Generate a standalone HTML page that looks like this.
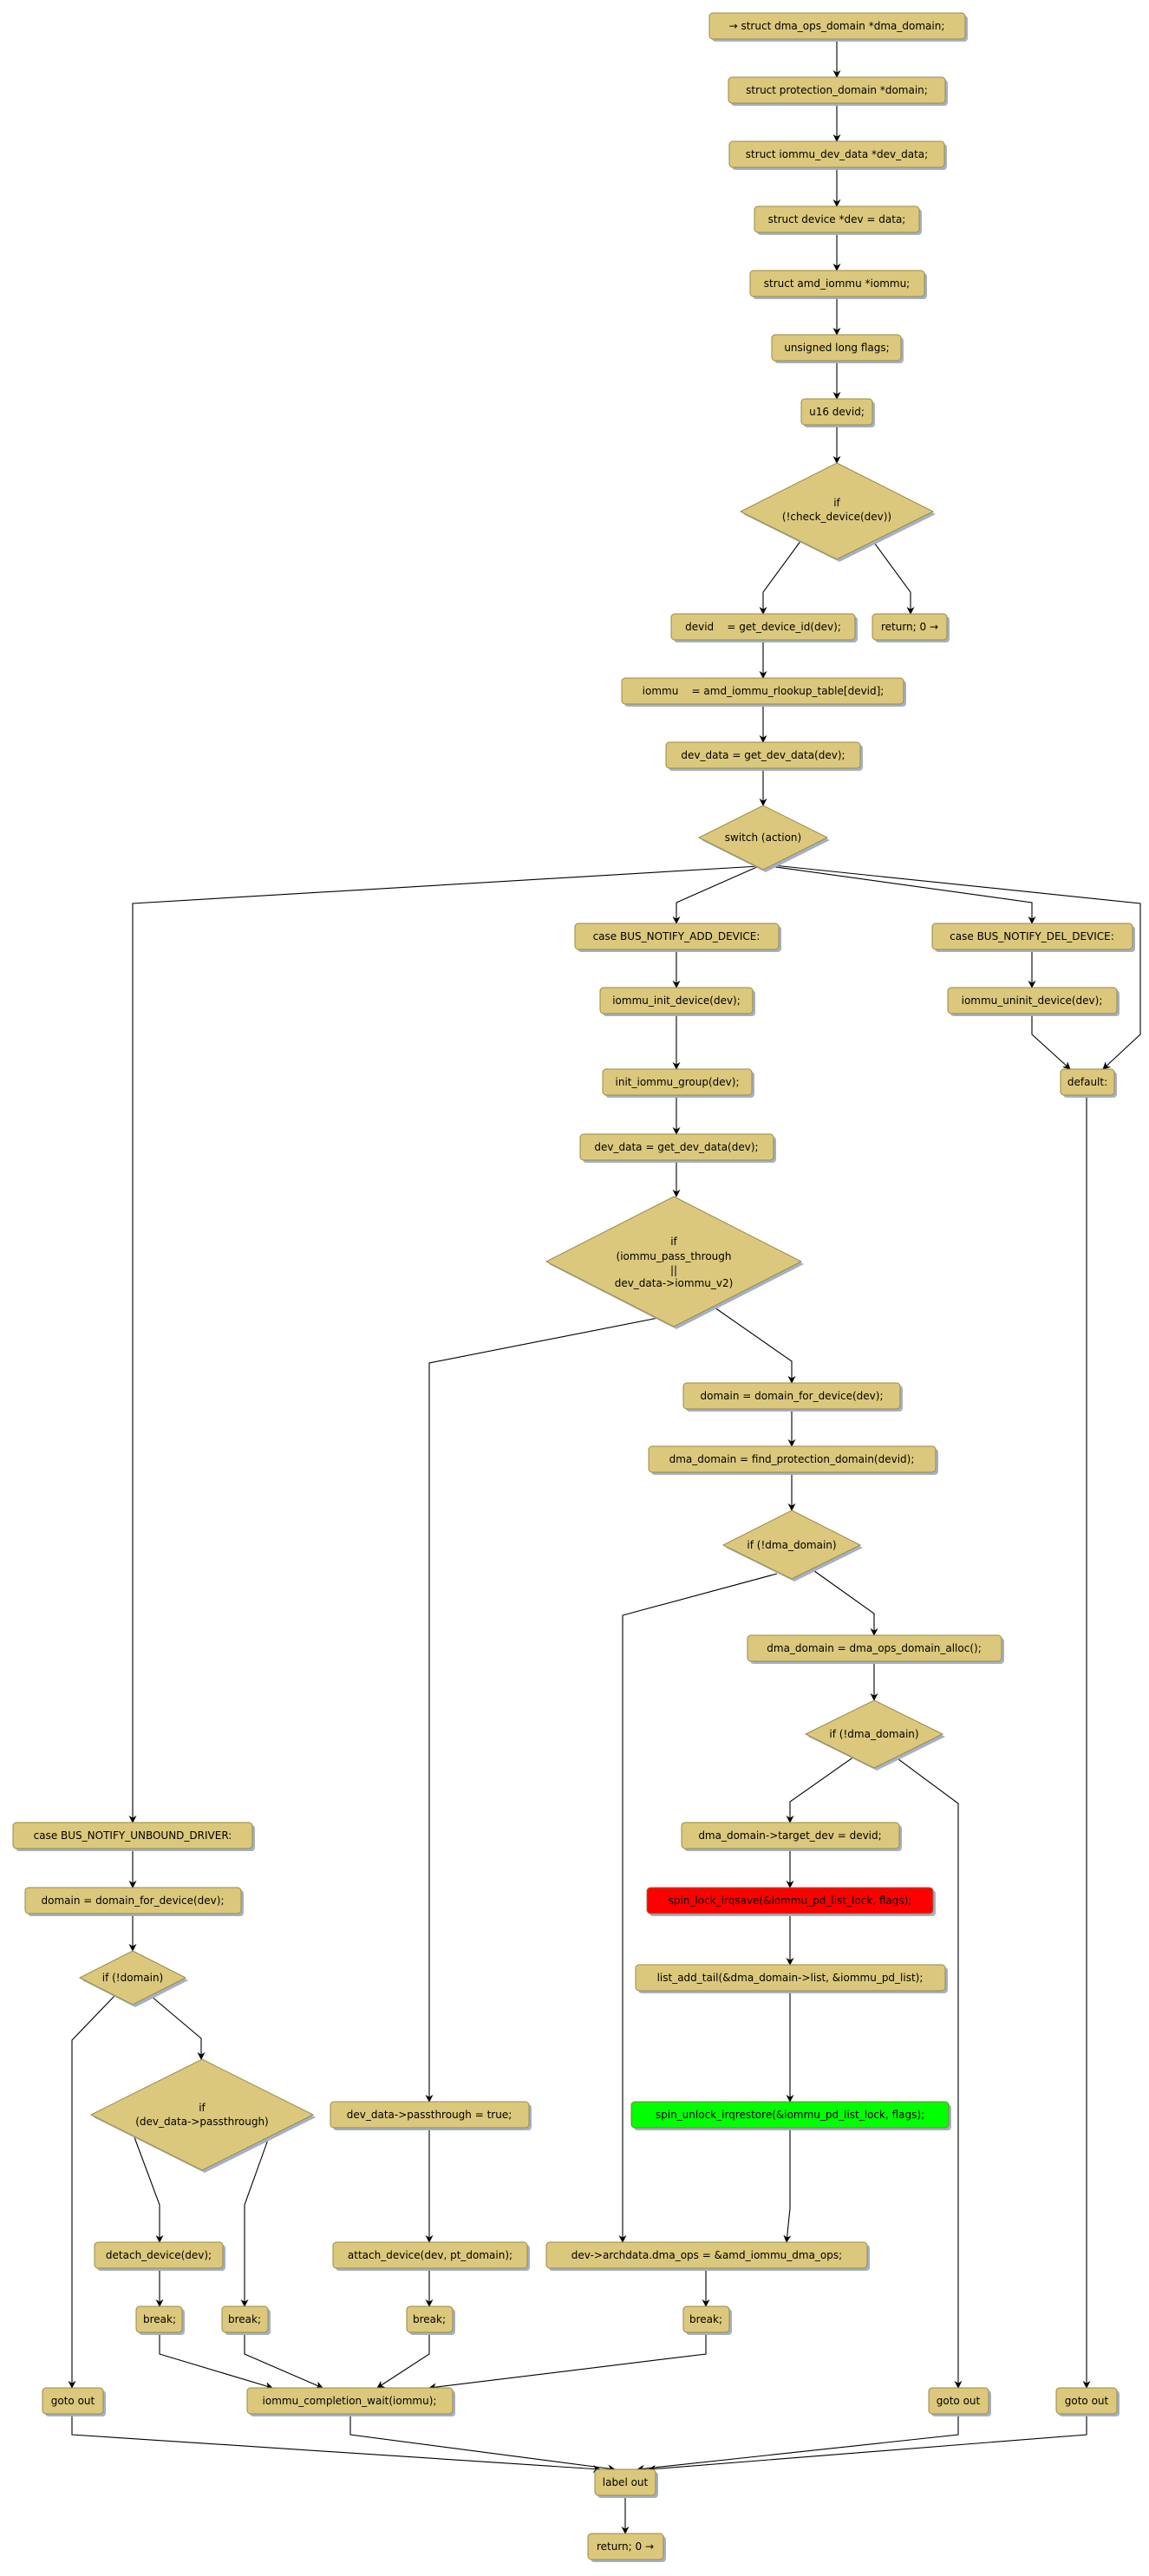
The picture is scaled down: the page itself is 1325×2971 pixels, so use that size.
<!DOCTYPE html>
<html><head><meta charset="utf-8"><style>
html,body{margin:0;padding:0;background:#fff}
svg{display:block}
text{font-family:"DejaVu Sans","Liberation Sans",sans-serif;font-size:12px;fill:#000;text-anchor:middle;white-space:pre}
.b{fill:#dbc87c;stroke:#9a8a45;stroke-width:1}
.s{fill:#a3b0c8}
.e{fill:none;stroke:#000;stroke-width:1.1}
</style></head><body>
<svg width="1325" height="2971" viewBox="0 0 1325 2971" xmlns="http://www.w3.org/2000/svg">
<defs><marker id="a" viewBox="0 0 10 10" refX="9" refY="5" markerWidth="9" markerHeight="9" orient="auto" markerUnits="userSpaceOnUse"><path d="M0,0 L10,5 L0,10 L3,5 z" fill="#000"/></marker></defs>
<g id="edges" marker-end="url(#a)">
<polyline class="e" marker-end="url(#a)" points="965,46 965,89"/>
<polyline class="e" marker-end="url(#a)" points="965,120 965,163"/>
<polyline class="e" marker-end="url(#a)" points="965,194 965,238"/>
<polyline class="e" marker-end="url(#a)" points="965,267 965,312"/>
<polyline class="e" marker-end="url(#a)" points="965,341 965,386"/>
<polyline class="e" marker-end="url(#a)" points="965,415 965,460"/>
<polyline class="e" marker-end="url(#a)" points="965,489 965,534"/>
<polyline class="e" marker-end="url(#a)" points="924,623 880,683 880,708"/>
<polyline class="e" marker-end="url(#a)" points="1006,623 1050,683 1050,708"/>
<polyline class="e" marker-end="url(#a)" points="880,737 880,782"/>
<polyline class="e" marker-end="url(#a)" points="880,812 880,856"/>
<polyline class="e" marker-end="url(#a)" points="880,886 880,929"/>
<polyline class="e" marker-end="url(#a)" points="875,999 153,1042 153,2102"/>
<polyline class="e" marker-end="url(#a)" points="875,999 780,1041 780,1065"/>
<polyline class="e" marker-end="url(#a)" points="888,999 1190,1041 1190,1065"/>
<polyline class="e" marker-end="url(#a)" points="892,998 1315,1042 1315,1193 1272,1233"/>
<polyline class="e" marker-end="url(#a)" points="1190,1096 1190,1139"/>
<polyline class="e" marker-end="url(#a)" points="1190,1170 1190,1193 1234,1233"/>
<polyline class="e" marker-end="url(#a)" points="780,1096 780,1139"/>
<polyline class="e" marker-end="url(#a)" points="780,1170 780,1233"/>
<polyline class="e" marker-end="url(#a)" points="780,1264 780,1308"/>
<polyline class="e" marker-end="url(#a)" points="780,1339 780,1380"/>
<polyline class="e" marker-end="url(#a)" points="759,1520 495,1572 495,2424"/>
<polyline class="e" marker-end="url(#a)" points="824,1508 913,1570 913,1595"/>
<polyline class="e" marker-end="url(#a)" points="913,1626 913,1668"/>
<polyline class="e" marker-end="url(#a)" points="913,1699 913,1742"/>
<polyline class="e" marker-end="url(#a)" points="896,1815 718,1863 718,2586"/>
<polyline class="e" marker-end="url(#a)" points="935,1809 1008,1861 1008,1886"/>
<polyline class="e" marker-end="url(#a)" points="1008,1916 1008,1961"/>
<polyline class="e" marker-end="url(#a)" points="985,2026 911,2078 911,2102"/>
<polyline class="e" marker-end="url(#a)" points="1032,2026 1105,2080 1105,2754"/>
<polyline class="e" marker-end="url(#a)" points="911,2134 911,2177"/>
<polyline class="e" marker-end="url(#a)" points="911,2207 911,2266"/>
<polyline class="e" marker-end="url(#a)" points="911,2296 911,2424"/>
<polyline class="e" marker-end="url(#a)" points="911,2454 911,2547 907,2586"/>
<polyline class="e" marker-end="url(#a)" points="814,2617 814,2660"/>
<polyline class="e" marker-end="url(#a)" points="814,2690 814,2715 495,2754"/>
<polyline class="e" marker-end="url(#a)" points="1253,1263 1253,2754"/>
<polyline class="e" marker-end="url(#a)" points="153,2134 153,2177"/>
<polyline class="e" marker-end="url(#a)" points="153,2207 153,2250"/>
<polyline class="e" marker-end="url(#a)" points="132,2302 83,2353 83,2754"/>
<polyline class="e" marker-end="url(#a)" points="174,2302 232,2351 232,2375"/>
<polyline class="e" marker-end="url(#a)" points="155,2465 184,2543 184,2586"/>
<polyline class="e" marker-end="url(#a)" points="310,2465 282,2543 282,2660"/>
<polyline class="e" marker-end="url(#a)" points="184,2617 184,2660"/>
<polyline class="e" marker-end="url(#a)" points="495,2454 495,2586"/>
<polyline class="e" marker-end="url(#a)" points="495,2617 495,2660"/>
<polyline class="e" marker-end="url(#a)" points="184,2690 184,2715 314,2754"/>
<polyline class="e" marker-end="url(#a)" points="282,2690 282,2715 372,2754"/>
<polyline class="e" marker-end="url(#a)" points="495,2690 495,2715 435,2754"/>
<polyline class="e" marker-end="url(#a)" points="83,2786 83,2808 692,2848"/>
<polyline class="e" marker-end="url(#a)" points="404,2786 404,2808 709,2848"/>
<polyline class="e" marker-end="url(#a)" points="1105,2786 1105,2808 735,2848"/>
<polyline class="e" marker-end="url(#a)" points="1253,2786 1253,2808 748,2848"/>
<polyline class="e" marker-end="url(#a)" points="721,2879 721,2922"/>
</g>
<!-- boxes -->
<g>
<rect class="s" x="821" y="18" width="295" height="30" rx="4"/><rect class="b" x="818" y="15" width="295" height="30" rx="4"/><text x="965" y="34">→ struct dma_ops_domain *dma_domain;</text>
<rect class="s" x="843" y="92" width="250" height="30" rx="4"/><rect class="b" x="840" y="89" width="250" height="30" rx="4"/><text x="965" y="108">struct protection_domain *domain;</text>
<rect class="s" x="844" y="166" width="248" height="30" rx="4"/><rect class="b" x="841" y="163" width="248" height="30" rx="4"/><text x="965" y="182">struct iommu_dev_data *dev_data;</text>
<rect class="s" x="873" y="241" width="190" height="30" rx="4"/><rect class="b" x="870" y="238" width="190" height="30" rx="4"/><text x="965" y="257">struct device *dev = data;</text>
<rect class="s" x="868" y="315" width="201" height="30" rx="4"/><rect class="b" x="865" y="312" width="201" height="30" rx="4"/><text x="965" y="331">struct amd_iommu *iommu;</text>
<rect class="s" x="893" y="389" width="149" height="30" rx="4"/><rect class="b" x="890" y="386" width="149" height="30" rx="4"/><text x="965" y="405">unsigned long flags;</text>
<rect class="s" x="927" y="463" width="82" height="30" rx="4"/><rect class="b" x="924" y="460" width="82" height="30" rx="4"/><text x="965" y="479">u16 devid;</text>
<polygon class="s" points="968,537 1079,593 968,648 857,593"/><polygon class="b" points="965,534 1076,590 965,645 854,590"/>
<text x="965" y="584">if</text><text x="965" y="600">(!check_device(dev))</text>
<rect class="s" x="777" y="711" width="212" height="30" rx="4"/><rect class="b" x="774" y="708" width="212" height="30" rx="4"/><text x="880" y="727">devid    = get_device_id(dev);</text>
<rect class="s" x="1009" y="711" width="86" height="30" rx="4"/><rect class="b" x="1006" y="708" width="86" height="30" rx="4"/><text x="1049" y="727">return; 0 →</text>
<rect class="s" x="720" y="785" width="325" height="30" rx="4"/><rect class="b" x="717" y="782" width="325" height="30" rx="4"/><text x="880" y="801">iommu    = amd_iommu_rlookup_table[devid];</text>
<rect class="s" x="771" y="859" width="224" height="30" rx="4"/><rect class="b" x="768" y="856" width="224" height="30" rx="4"/><text x="880" y="875">dev_data = get_dev_data(dev);</text>
<polygon class="s" points="883,932 957,969 883,1006 809,969"/><polygon class="b" points="880,929 954,966 880,1003 806,966"/>
<text x="880" y="970">switch (action)</text>
<rect class="s" x="666" y="1068" width="235" height="30" rx="4"/><rect class="b" x="663" y="1065" width="235" height="30" rx="4"/><text x="780" y="1084">case BUS_NOTIFY_ADD_DEVICE:</text>
<rect class="s" x="1078" y="1068" width="231" height="30" rx="4"/><rect class="b" x="1075" y="1065" width="231" height="30" rx="4"/><text x="1190" y="1084">case BUS_NOTIFY_DEL_DEVICE:</text>
<rect class="s" x="695" y="1142" width="176" height="30" rx="4"/><rect class="b" x="692" y="1139" width="176" height="30" rx="4"/><text x="780" y="1158">iommu_init_device(dev);</text>
<rect class="s" x="1096" y="1142" width="195" height="30" rx="4"/><rect class="b" x="1093" y="1139" width="195" height="30" rx="4"/><text x="1190" y="1158">iommu_uninit_device(dev);</text>
<rect class="s" x="698" y="1236" width="172" height="30" rx="4"/><rect class="b" x="695" y="1233" width="172" height="30" rx="4"/><text x="781" y="1252">init_iommu_group(dev);</text>
<rect class="s" x="1226" y="1236" width="62" height="30" rx="4"/><rect class="b" x="1223" y="1233" width="62" height="30" rx="4"/><text x="1254" y="1252">default:</text>
<rect class="s" x="672" y="1311" width="223" height="30" rx="4"/><rect class="b" x="669" y="1308" width="223" height="30" rx="4"/><text x="780" y="1327">dev_data = get_dev_data(dev);</text>
<polygon class="s" points="780,1383 927,1458 780,1533 633,1458"/><polygon class="b" points="777,1380 924,1455 777,1530 630,1455"/>
<text x="777" y="1436">if</text><text x="777" y="1453">(iommu_pass_through</text><text x="777" y="1469">||</text><text x="777" y="1484">dev_data-&gt;iommu_v2)</text>
<rect class="s" x="791" y="1598" width="250" height="30" rx="4"/><rect class="b" x="788" y="1595" width="250" height="30" rx="4"/><text x="913" y="1614">domain = domain_for_device(dev);</text>
<rect class="s" x="751" y="1671" width="331" height="30" rx="4"/><rect class="b" x="748" y="1668" width="331" height="30" rx="4"/><text x="913" y="1687">dma_domain = find_protection_domain(devid);</text>
<polygon class="s" points="916,1745 995,1785 916,1824 837,1785"/><polygon class="b" points="913,1742 992,1782 913,1821 834,1782"/>
<text x="913" y="1786">if (!dma_domain)</text>
<rect class="s" x="865" y="1889" width="293" height="30" rx="4"/><rect class="b" x="862" y="1886" width="293" height="30" rx="4"/><text x="1008" y="1905">dma_domain = dma_ops_domain_alloc();</text>
<polygon class="s" points="1011,1964 1090,2003 1011,2042 932,2003"/><polygon class="b" points="1008,1961 1087,2000 1008,2039 929,2000"/>
<text x="1008" y="2004">if (!dma_domain)</text>
<rect class="s" x="789" y="2105" width="251" height="30" rx="4"/><rect class="b" x="786" y="2102" width="251" height="30" rx="4"/><text x="911" y="2121">dma_domain-&gt;target_dev = devid;</text>
<rect class="s" x="749" y="2180" width="330" height="30" rx="4"/><rect x="746" y="2177" width="330" height="30" rx="4" fill="#ff0000" stroke="#8a7a3a"/><text x="911" y="2196">spin_lock_irqsave(&amp;iommu_pd_list_lock, flags);</text>
<rect class="s" x="736" y="2269" width="357" height="30" rx="4"/><rect class="b" x="733" y="2266" width="357" height="30" rx="4"/><text x="911" y="2285">list_add_tail(&amp;dma_domain-&gt;list, &amp;iommu_pd_list);</text>
<rect class="s" x="731" y="2427" width="366" height="30" rx="4"/><rect x="728" y="2424" width="366" height="30" rx="4" fill="#00ff00" stroke="#8a7a3a"/><text x="911" y="2443">spin_unlock_irqrestore(&amp;iommu_pd_list_lock, flags);</text>
<rect class="s" x="633" y="2589" width="370" height="30" rx="4"/><rect class="b" x="630" y="2586" width="370" height="30" rx="4"/><text x="815" y="2605">dev-&gt;archdata.dma_ops = &amp;amd_iommu_dma_ops;</text>
<rect class="s" x="791" y="2663" width="53" height="30" rx="4"/><rect class="b" x="788" y="2660" width="53" height="30" rx="4"/><text x="814" y="2679">break;</text>
<rect class="s" x="18" y="2105" width="276" height="30" rx="4"/><rect class="b" x="15" y="2102" width="276" height="30" rx="4"/><text x="153" y="2121">case BUS_NOTIFY_UNBOUND_DRIVER:</text>
<rect class="s" x="32" y="2180" width="249" height="30" rx="4"/><rect class="b" x="29" y="2177" width="249" height="30" rx="4"/><text x="153" y="2196">domain = domain_for_device(dev);</text>
<polygon class="s" points="156,2253 217,2284 156,2315 95,2284"/><polygon class="b" points="153,2250 214,2281 153,2312 92,2281"/>
<text x="153" y="2285">if (!domain)</text>
<polygon class="s" points="236,2378 364,2442 236,2506 108,2442"/><polygon class="b" points="233,2375 361,2439 233,2503 105,2439"/>
<text x="233" y="2435">if</text><text x="233" y="2451">(dev_data-&gt;passthrough)</text>
<rect class="s" x="112" y="2589" width="148" height="30" rx="4"/><rect class="b" x="109" y="2586" width="148" height="30" rx="4"/><text x="183" y="2605">detach_device(dev);</text>
<rect class="s" x="160" y="2663" width="53" height="30" rx="4"/><rect class="b" x="157" y="2660" width="53" height="30" rx="4"/><text x="184" y="2679">break;</text>
<rect class="s" x="259" y="2663" width="53" height="30" rx="4"/><rect class="b" x="256" y="2660" width="53" height="30" rx="4"/><text x="282" y="2679">break;</text>
<rect class="s" x="384" y="2427" width="229" height="30" rx="4"/><rect class="b" x="381" y="2424" width="229" height="30" rx="4"/><text x="495" y="2443">dev_data-&gt;passthrough = true;</text>
<rect class="s" x="387" y="2589" width="224" height="30" rx="4"/><rect class="b" x="384" y="2586" width="224" height="30" rx="4"/><text x="496" y="2605">attach_device(dev, pt_domain);</text>
<rect class="s" x="472" y="2663" width="53" height="30" rx="4"/><rect class="b" x="469" y="2660" width="53" height="30" rx="4"/><text x="495" y="2679">break;</text>
<rect class="s" x="52" y="2757" width="70" height="30" rx="4"/><rect class="b" x="49" y="2754" width="70" height="30" rx="4"/><text x="84" y="2773">goto out</text>
<rect class="s" x="288" y="2757" width="237" height="30" rx="4"/><rect class="b" x="285" y="2754" width="237" height="30" rx="4"/><text x="403" y="2773">iommu_completion_wait(iommu);</text>
<rect class="s" x="1074" y="2757" width="69" height="30" rx="4"/><rect class="b" x="1071" y="2754" width="69" height="30" rx="4"/><text x="1105" y="2773">goto out</text>
<rect class="s" x="1221" y="2757" width="70" height="30" rx="4"/><rect class="b" x="1218" y="2754" width="70" height="30" rx="4"/><text x="1253" y="2773">goto out</text>
<rect class="s" x="689" y="2851" width="70" height="30" rx="4"/><rect class="b" x="686" y="2848" width="70" height="30" rx="4"/><text x="721" y="2867">label out</text>
<rect class="s" x="681" y="2925" width="87" height="30" rx="4"/><rect class="b" x="678" y="2922" width="87" height="30" rx="4"/><text x="721" y="2941">return; 0 →</text>
</g>
</svg>
</body></html>
